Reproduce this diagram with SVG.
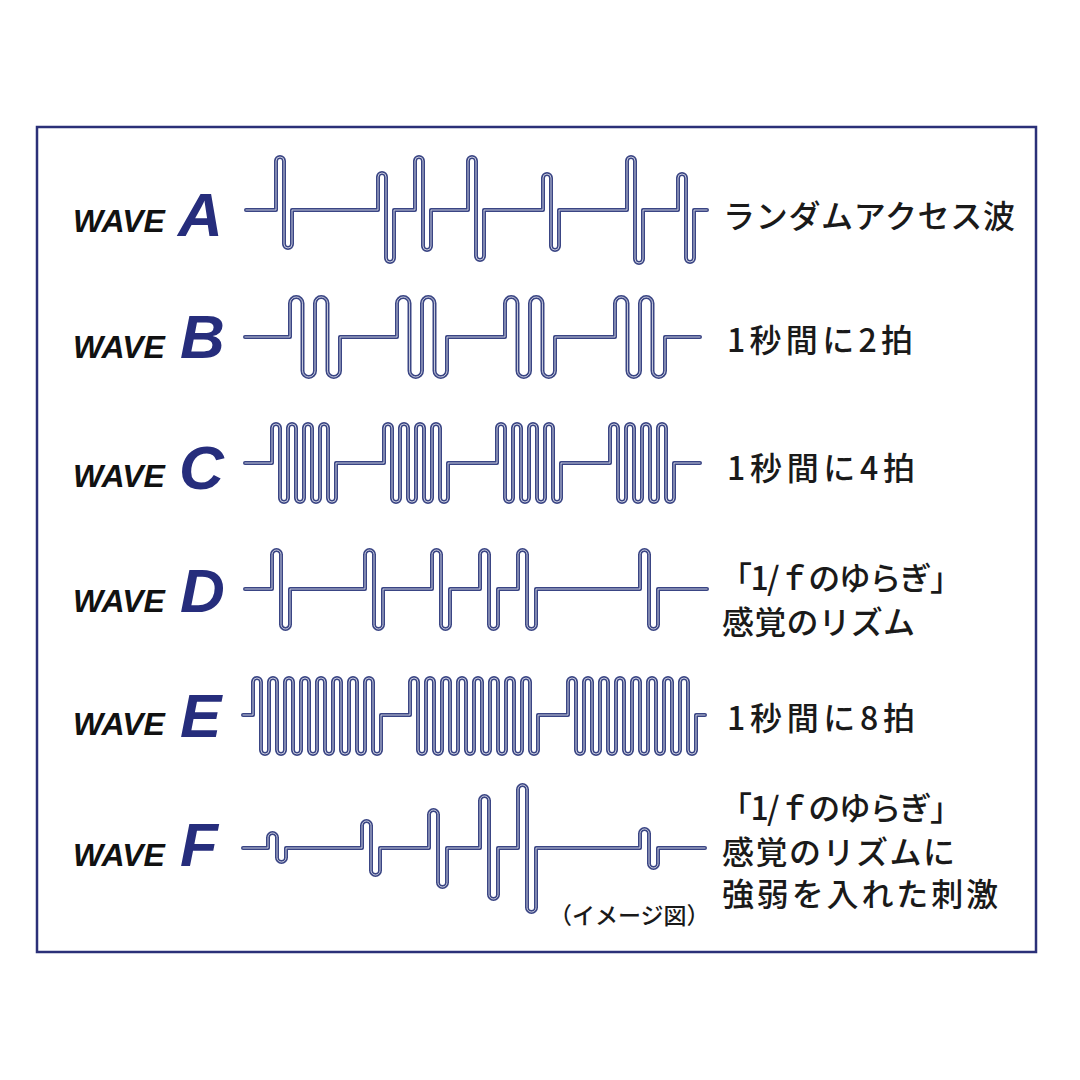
<svg xmlns="http://www.w3.org/2000/svg" xmlns:xlink="http://www.w3.org/1999/xlink" width="1080" height="1080" viewBox="0 0 1080 1080">
<style>
.frame{fill:#ffffff;stroke:#2b3078;stroke-width:2.5}
.wv{font-family:"Liberation Sans",Arial,sans-serif;font-weight:bold;font-style:italic;font-size:32px;fill:#111111}
.big{font-family:"Liberation Sans",Arial,sans-serif;font-weight:bold;font-style:italic;font-size:62px;fill:#262d7c}
.jp{font-family:"Noto Sans CJK JP","Noto Sans",sans-serif;font-size:32px;font-weight:500;fill:#1a1a1a}
.note{font-family:"Noto Sans CJK JP","Noto Sans",sans-serif;font-size:23px;font-weight:500;fill:#1a1a1a}
.outer{fill:none;stroke:#3a4584;stroke-width:4;stroke-linejoin:round;stroke-linecap:round}
.inner{fill:none;stroke:#ffffff;stroke-opacity:0.7;stroke-width:1;stroke-linejoin:round;stroke-linecap:round}
</style>
<defs>
<path id="pa" d="M246 210 H276 v-49 a4 4 0 0 1 8 0 v83 a4 4 0 0 0 8 0 v-34 H378 v-33 a4 4 0 0 1 8 0 v81 a4 4 0 0 0 8 0 v-48 H415 v-49 a4 4 0 0 1 8 0 v85 a4 4 0 0 0 8 0 v-36 H468 v-49 a4 4 0 0 1 8 0 v95 a4 4 0 0 0 8 0 v-46 H543 v-32 a4 4 0 0 1 8 0 v68 a4 4 0 0 0 8 0 v-36 H627 v-49 a4 4 0 0 1 8 0 v98 a4 4 0 0 0 8 0 v-49 H678 v-32 a4 4 0 0 1 8 0 v80 a4 4 0 0 0 8 0 v-48 H707"/>
<path id="pb" d="M245 337 H290 v-33.75 a6.25 6.25 0 0 1 12.5 0 v67.5 a6.25 6.25 0 0 0 12.5 0 v-67.5 a6.25 6.25 0 0 1 12.5 0 v67.5 a6.25 6.25 0 0 0 12.5 0 v-33.75 H397 v-33.75 a6.25 6.25 0 0 1 12.5 0 v67.5 a6.25 6.25 0 0 0 12.5 0 v-67.5 a6.25 6.25 0 0 1 12.5 0 v67.5 a6.25 6.25 0 0 0 12.5 0 v-33.75 H505 v-33.75 a6.25 6.25 0 0 1 12.5 0 v67.5 a6.25 6.25 0 0 0 12.5 0 v-67.5 a6.25 6.25 0 0 1 12.5 0 v67.5 a6.25 6.25 0 0 0 12.5 0 v-33.75 H615 v-33.75 a6.25 6.25 0 0 1 12.5 0 v67.5 a6.25 6.25 0 0 0 12.5 0 v-67.5 a6.25 6.25 0 0 1 12.5 0 v67.5 a6.25 6.25 0 0 0 12.5 0 v-33.75 H700"/>
<path id="pc" d="M245 463 H272 v-35 a4 4 0 0 1 8 0 v70 a4 4 0 0 0 8 0 v-70 a4 4 0 0 1 8 0 v70 a4 4 0 0 0 8 0 v-70 a4 4 0 0 1 8 0 v70 a4 4 0 0 0 8 0 v-70 a4 4 0 0 1 8 0 v70 a4 4 0 0 0 8 0 v-35 H384 v-35 a4 4 0 0 1 8 0 v70 a4 4 0 0 0 8 0 v-70 a4 4 0 0 1 8 0 v70 a4 4 0 0 0 8 0 v-70 a4 4 0 0 1 8 0 v70 a4 4 0 0 0 8 0 v-70 a4 4 0 0 1 8 0 v70 a4 4 0 0 0 8 0 v-35 H497 v-35 a4 4 0 0 1 8 0 v70 a4 4 0 0 0 8 0 v-70 a4 4 0 0 1 8 0 v70 a4 4 0 0 0 8 0 v-70 a4 4 0 0 1 8 0 v70 a4 4 0 0 0 8 0 v-70 a4 4 0 0 1 8 0 v70 a4 4 0 0 0 8 0 v-35 H610 v-35 a4 4 0 0 1 8 0 v70 a4 4 0 0 0 8 0 v-70 a4 4 0 0 1 8 0 v70 a4 4 0 0 0 8 0 v-70 a4 4 0 0 1 8 0 v70 a4 4 0 0 0 8 0 v-70 a4 4 0 0 1 8 0 v70 a4 4 0 0 0 8 0 v-35 H700"/>
<path id="pd" d="M245 589 H272 v-34.5 a4.5 4.5 0 0 1 9 0 v70 a4.5 4.5 0 0 0 9 0 v-35.5 H365 v-34.5 a4.5 4.5 0 0 1 9 0 v70 a4.5 4.5 0 0 0 9 0 v-35.5 H432 v-34.5 a4.5 4.5 0 0 1 9 0 v70 a4.5 4.5 0 0 0 9 0 v-35.5 H480 v-34.5 a4.5 4.5 0 0 1 9 0 v70 a4.5 4.5 0 0 0 9 0 v-35.5 H518 v-34.5 a4.5 4.5 0 0 1 9 0 v70 a4.5 4.5 0 0 0 9 0 v-35.5 H640 v-34.5 a4.5 4.5 0 0 1 9 0 v70 a4.5 4.5 0 0 0 9 0 v-35.5 H707"/>
<path id="pe" d="M243 715 H253 v-33 a4 4 0 0 1 8 0 v68 a4 4 0 0 0 8 0 v-68 a4 4 0 0 1 8 0 v68 a4 4 0 0 0 8 0 v-68 a4 4 0 0 1 8 0 v68 a4 4 0 0 0 8 0 v-68 a4 4 0 0 1 8 0 v68 a4 4 0 0 0 8 0 v-68 a4 4 0 0 1 8 0 v68 a4 4 0 0 0 8 0 v-68 a4 4 0 0 1 8 0 v68 a4 4 0 0 0 8 0 v-68 a4 4 0 0 1 8 0 v68 a4 4 0 0 0 8 0 v-68 a4 4 0 0 1 8 0 v68 a4 4 0 0 0 8 0 v-35 H410 v-33 a4 4 0 0 1 8 0 v68 a4 4 0 0 0 8 0 v-68 a4 4 0 0 1 8 0 v68 a4 4 0 0 0 8 0 v-68 a4 4 0 0 1 8 0 v68 a4 4 0 0 0 8 0 v-68 a4 4 0 0 1 8 0 v68 a4 4 0 0 0 8 0 v-68 a4 4 0 0 1 8 0 v68 a4 4 0 0 0 8 0 v-68 a4 4 0 0 1 8 0 v68 a4 4 0 0 0 8 0 v-68 a4 4 0 0 1 8 0 v68 a4 4 0 0 0 8 0 v-68 a4 4 0 0 1 8 0 v68 a4 4 0 0 0 8 0 v-35 H568 v-33 a4 4 0 0 1 8 0 v68 a4 4 0 0 0 8 0 v-68 a4 4 0 0 1 8 0 v68 a4 4 0 0 0 8 0 v-68 a4 4 0 0 1 8 0 v68 a4 4 0 0 0 8 0 v-68 a4 4 0 0 1 8 0 v68 a4 4 0 0 0 8 0 v-68 a4 4 0 0 1 8 0 v68 a4 4 0 0 0 8 0 v-68 a4 4 0 0 1 8 0 v68 a4 4 0 0 0 8 0 v-68 a4 4 0 0 1 8 0 v68 a4 4 0 0 0 8 0 v-68 a4 4 0 0 1 8 0 v68 a4 4 0 0 0 8 0 v-35 H705"/>
<path id="pf" d="M243 848 H268 v-10.5 a4.5 4.5 0 0 1 9 0 v20 a4.5 4.5 0 0 0 9 0 v-9.5 H362 v-22.5 a4.5 4.5 0 0 1 9 0 v45 a4.5 4.5 0 0 0 9 0 v-22.5 H429 v-33.5 a4.5 4.5 0 0 1 9 0 v68 a4.5 4.5 0 0 0 9 0 v-34.5 H480 v-47.5 a4.5 4.5 0 0 1 9 0 v94 a4.5 4.5 0 0 0 9 0 v-46.5 H518 v-58.5 a4.5 4.5 0 0 1 9 0 v118 a4.5 4.5 0 0 0 9 0 v-59.5 H640 v-14.5 a4.5 4.5 0 0 1 9 0 v30 a4.5 4.5 0 0 0 9 0 v-15.5 H705"/>
</defs>
<rect class="frame" x="37" y="127" width="999" height="825"/>
<g id="wave-a">
<text class="wv" x="73" y="232">WAVE</text>
<text class="big" x="178" y="236">A</text>
<use href="#pa" class="outer"/><use href="#pa" class="inner"/>
<text class="jp" x="723" y="228" textLength="292">ランダムアクセス波</text>
</g>
<g id="wave-b">
<text class="wv" x="73" y="358">WAVE</text>
<text class="big" x="180" y="358">B</text>
<use href="#pb" class="outer"/><use href="#pb" class="inner"/>
<text class="jp" x="727" y="352" textLength="186">1秒間に2拍</text>
</g>
<g id="wave-c">
<text class="wv" x="73" y="487">WAVE</text>
<text class="big" x="179" y="489">C</text>
<use href="#pc" class="outer"/><use href="#pc" class="inner"/>
<text class="jp" x="727" y="480" textLength="188">1秒間に4拍</text>
</g>
<g id="wave-d">
<text class="wv" x="73" y="612">WAVE</text>
<text class="big" x="180" y="612">D</text>
<use href="#pd" class="outer"/><use href="#pd" class="inner"/>
<text class="jp" x="720" y="590" textLength="242">「1/ｆのゆらぎ」</text>
<text class="jp" x="722" y="634" textLength="193">感覚のリズム</text>
</g>
<g id="wave-e">
<text class="wv" x="73" y="735">WAVE</text>
<text class="big" x="180" y="737">E</text>
<use href="#pe" class="outer"/><use href="#pe" class="inner"/>
<text class="jp" x="727" y="730" textLength="188">1秒間に8拍</text>
</g>
<g id="wave-f">
<text class="wv" x="73" y="866">WAVE</text>
<text class="big" x="180" y="866">F</text>
<use href="#pf" class="outer"/><use href="#pf" class="inner"/>
<text class="jp" x="720" y="820" textLength="242">「1/ｆのゆらぎ」</text>
<text class="jp" x="722" y="864" textLength="233">感覚のリズムに</text>
<text class="jp" x="722" y="906" textLength="276">強弱を入れた刺激</text>
<text class="note" x="549" y="924">（イメージ図）</text>
</g>
</svg>
